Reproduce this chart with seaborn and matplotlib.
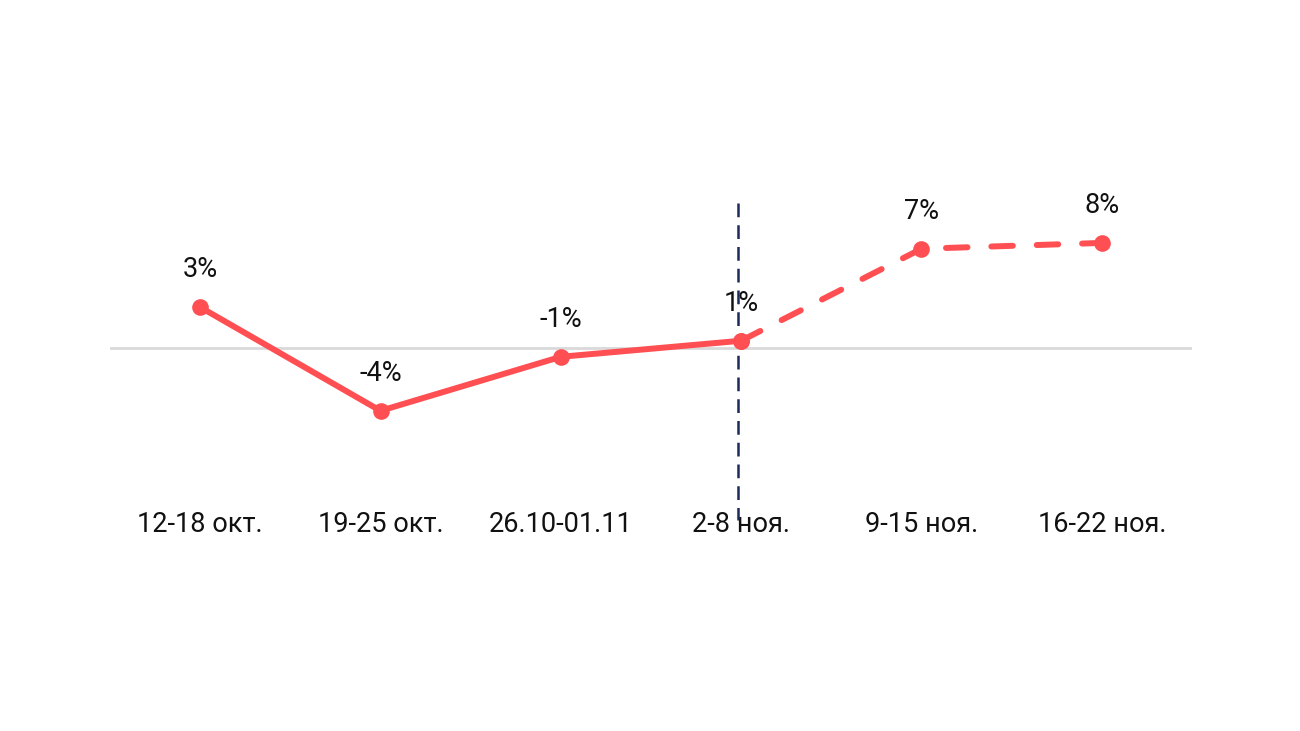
import matplotlib
matplotlib.use("Agg")
import matplotlib.pyplot as plt
import seaborn as sns
import pandas as pd

weeks = ["12-18 окт.", "19-25 окт.", "26.10-01.11", "2-8 ноя.", "9-15 ноя.", "16-22 ноя."]
values = [2.8, -4.3, -0.6, 0.5, 6.8, 7.2]
labels = ["3%", "-4%", "-1%", "1%", "7%", "8%"]
split_at = 3  # last actual week, forecast after it

sns.set_theme(style="white")
plt.rcParams["font.family"] = ["Roboto", "DejaVu Sans"]

RED = "#ff4f52"
NAVY = "#1c2a5c"

df = pd.DataFrame({"pos": range(len(weeks)), "value": values, "label": labels})
fact = df[df["pos"] <= split_at]
fcst = df[df["pos"] >= split_at]

fig = plt.figure(figsize=(13, 7.31), dpi=100)
ax = fig.add_axes([110 / 1300, 1 - 500 / 731, (1192 - 110) / 1300, 300 / 731])

# zero line
ax.axhline(0, color="#d9d9d9", lw=2, zorder=1)

sns.lineplot(data=fact, x="pos", y="value", ax=ax, color=RED, lw=4.3,
             marker="o", markersize=12, markeredgewidth=0,
             solid_capstyle="round", zorder=3)
sns.lineplot(data=fcst, x="pos", y="value", ax=ax, color=RED, lw=4.3,
             marker="o", markersize=12, markeredgewidth=0,
             linestyle=(0, (3.6, 4.0)), dash_capstyle="round", zorder=3)

for _, r in df.iterrows():
    ax.annotate(r["label"], (r["pos"], r["value"]), xytext=(0, 27),
                textcoords="offset points", ha="center", va="center",
                fontsize=19.5, color="#111111")

ax.set_xlim(-0.5, 5.5)
ax.set_ylim(-10.41, 10.14)

# separator between actual and forecast
ax.plot([split_at - 0.02, split_at - 0.02], [9.93, -11.8], color=NAVY, lw=1.8,
        linestyle=(0, (5.5, 3.2)), clip_on=False, zorder=2)

ax.set_xticks(list(df["pos"]))
ax.set_xticklabels(weeks, fontsize=19.5, color="#111111")
ax.tick_params(axis="x", length=0, pad=8)
ax.set_yticks([])
ax.set_xlabel("")
ax.set_ylabel("")
sns.despine(ax=ax, left=True, bottom=True)

fig.savefig("out.png", dpi=100, facecolor="white")
